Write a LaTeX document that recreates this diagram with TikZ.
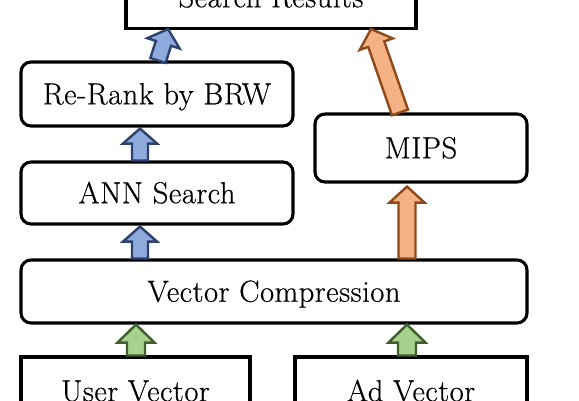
\documentclass[tikz,border=0pt]{standalone}
\usepackage{fontspec}
\setmainfont{Latin Modern Roman}[FakeBold=0.5,LetterSpace=1.8]
\usetikzlibrary{calc}
\definecolor{blueF}{HTML}{8FAADC}
\definecolor{blueD}{HTML}{2B416E}
\definecolor{orangeF}{HTML}{F4B183}
\definecolor{orangeD}{HTML}{8F4A1C}
\definecolor{greenF}{HTML}{A9D18E}
\definecolor{greenD}{HTML}{3E5E2C}
% block arrow: #1 start, #2 tip, #3 style, #4 shaft half width, #5 head half width, #6 head length
\newcommand\barrow[6]{%
  \coordinate (bh) at ($(#2)!#6!(#1)$);
  \draw[#3] ($(#1)!#4!90:(#2)$) -- ($(bh)!#4!90:(#2)$) -- ($(bh)!#5!90:(#2)$) -- (#2)
    -- ($(bh)!#5!-90:(#2)$) -- ($(bh)!#4!-90:(#2)$) -- ($(#1)!#4!-90:(#2)$) -- cycle;}
\tikzset{
  box/.style={draw=black, line width=3.1pt, fill=white, inner sep=0pt,
    text height=20.5pt, text depth=0pt, font=\fontsize{30.5pt}{36pt}\selectfont},
  rbox/.style={box, rounded corners=10pt},
  arr/.style={line width=2.4pt, line join=miter},
  bluearr/.style={arr, draw=blueD, fill=blueF},
  orangearr/.style={arr, draw=orangeD, fill=orangeF},
  greenarr/.style={arr, draw=greenD, fill=greenF}
}
\begin{document}
\begin{tikzpicture}[x=1pt,y=-1pt]
\useasboundingbox (0,0) rectangle (579,400);
\clip (0,0) rectangle (579,400);
\fill[white] (0,0) rectangle (579,400);

\node[box, minimum width=290pt, minimum height=63pt] (sr) at (271,-3) {Search Results};
\node[rbox, minimum width=272pt, minimum height=64pt] (rr) at (157,94) {Re-Rank by BRW};
\node[rbox, minimum width=272pt, minimum height=62pt] (ann) at (157,193) {ANN Search};
\node[rbox, minimum width=212pt, minimum height=68pt] (mips) at (421,148) {MIPS};
\node[rbox, minimum width=506pt, minimum height=63pt] (vc) at (274,291.5) {Vector Compression};
\node[box, minimum width=229pt, minimum height=68pt] (uv) at (135.5,391) {User Vector};
\node[box, minimum width=232pt, minimum height=68pt] (av) at (411,391) {Ad Vector};

% arrow end points
\coordinate (b1s) at ($(ann.north)+(-17,0)$);
\coordinate (b1e) at ($(rr.south)+(-17,1)$);
\coordinate (b2s) at ($(vc.north)+(-134,0)$);
\coordinate (b2e) at ($(ann.south)+(-17,1)$);
\coordinate (b3s) at ($(rr.north)+(1,0)$);
\coordinate (b3e) at ($(sr.south)+(-103,-1)$);
\coordinate (o1s) at ($(vc.north)+(133,0)$);
\coordinate (o1e) at ($(mips.south)+(-14,3)$);
\coordinate (o2s) at ($(mips.north)+(-21,0)$);
\coordinate (o2e) at ($(sr.south)+(100,-1)$);
\coordinate (g1s) at ($(uv.north)+(0.5,0)$);
\coordinate (g1e) at ($(vc.south)+(-138,0)$);
\coordinate (g2s) at ($(av.north)+(-4,0)$);
\coordinate (g2e) at ($(vc.south)+(133,0)$);

\barrow{b1s}{b1e}{bluearr}{8pt}{17pt}{15pt}
\barrow{b2s}{b2e}{bluearr}{8pt}{17pt}{15pt}
\barrow{b3s}{b3e}{bluearr}{8pt}{17pt}{15pt}
\barrow{o1s}{o1e}{orangearr}{8.5pt}{17.5pt}{16pt}
\barrow{o2s}{o2e}{orangearr}{8.5pt}{17.5pt}{16pt}
\barrow{g1s}{g1e}{greenarr}{9pt}{18.5pt}{18pt}
\barrow{g2s}{g2e}{greenarr}{9pt}{18.5pt}{18pt}
\end{tikzpicture}
\end{document}
